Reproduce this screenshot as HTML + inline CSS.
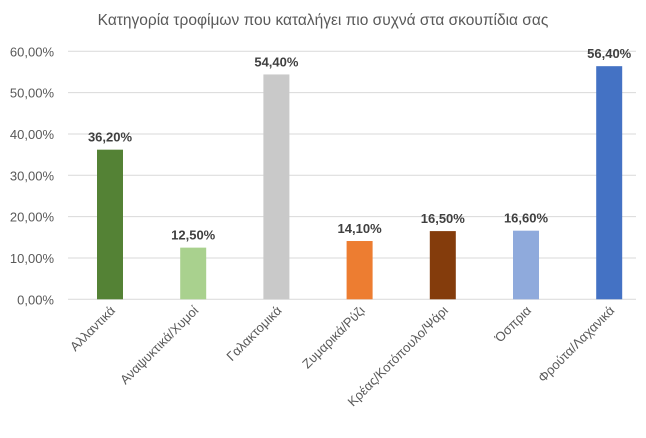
<!DOCTYPE html>
<html><head><meta charset="utf-8"><style>
body{margin:0;background:#fff;width:646px;height:433px;overflow:hidden}
svg text{font-family:"Liberation Sans","DejaVu Sans",sans-serif}
</style></head><body>
<svg id="chart" width="646" height="433" xmlns="http://www.w3.org/2000/svg">
<text x="323" y="25" text-anchor="middle" font-size="15.5" fill="#595959">Κατηγορία τροφίμων που καταλήγει πιο συχνά στα σκουπίδια σας</text>
<g id="grid"></g><g id="bars"></g><g id="labels"></g>
</svg>
<script>
const categories=["Αλλαντικά","Αναψυκτικά/Χυμοί","Γαλακτομικά","Ζυμαρικά/Ρύζι","Κρέας/Κοτόπουλο/Ψάρι","Όσπρια","Φρούτα/Λαχανικά"];
const values=[36.2,12.5,54.4,14.1,16.5,16.6,56.4];
const valueLabels=["36,20%","12,50%","54,40%","14,10%","16,50%","16,60%","56,40%"];
const colors=["#548235","#a9d18e","#c9c9c9","#ed7d31","#843c0c","#8faadc","#4472c4"];
const ticks=[0,10,20,30,40,50,60];
const tickLabels=["0,00%","10,00%","20,00%","30,00%","40,00%","50,00%","60,00%"];
const NS="http://www.w3.org/2000/svg";
const y0=299.3,yTop=51.3,vmax=60;
const y=v=>y0-(v/vmax)*(y0-yTop);
const x0=68.4,step=83.2;
const xc=i=>x0+step*(i+0.5);
const bw=26;
const grid=document.getElementById('grid'),bars=document.getElementById('bars'),labels=document.getElementById('labels');
function mk(tag,attrs,parent){const e=document.createElementNS(NS,tag);for(const k in attrs)e.setAttribute(k,attrs[k]);parent.appendChild(e);return e;}
ticks.forEach((t,i)=>{
  const l=mk('line',{x1:68,x2:636,y1:y(t),y2:y(t),stroke:"#d9d9d9","stroke-width":1},grid);
  
  
  const tx=mk('text',{x:54,y:y(t)+5,"text-anchor":"end","font-size":"13",fill:"#595959"},grid);
  tx.textContent=tickLabels[i];
  
  
});
values.forEach((v,i)=>{
  const r=mk('rect',{x:xc(i)-bw/2,y:y(v),width:bw,height:y0-y(v),fill:colors[i]},bars);
  
  
  const t=mk('text',{x:xc(i),y:y(v)-8,"text-anchor":"middle","font-size":"13","font-weight":"bold",fill:"#404040"},labels);
  t.textContent=valueLabels[i];
  
  
  const c=mk('text',{x:0,y:0,"text-anchor":"end","font-size":"13",fill:"#595959",transform:`translate(${xc(i)+6},${y0+12}) rotate(-45)`},labels);
  c.textContent=categories[i];
  
  
});
</script>
</body></html>
